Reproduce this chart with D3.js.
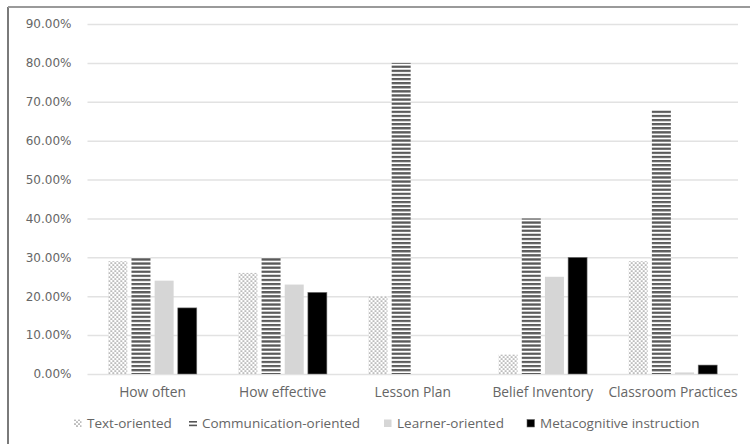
<!DOCTYPE html>
<html>
<head>
<meta charset="utf-8">
<script src="https://cdn.jsdelivr.net/npm/d3@7"></script>
<style>
  html, body { margin: 0; padding: 0; background: #fff; }
  svg { display: block; }
  text { font-family: "Open Sans", sans-serif; fill: #666; }
</style>
</head>
<body>
<svg id="chart" width="750" height="444"></svg>
<script>
const categories = ["How often", "How effective", "Lesson Plan", "Belief Inventory", "Classroom Practices"];
const seriesNames = ["Text-oriented", "Communication-oriented", "Learner-oriented", "Metacognitive instruction"];
const textOriented = [0.29, 0.26, 0.20, 0.05, 0.29];
const communicationOriented = [0.30, 0.30, 0.80, 0.40, 0.68];
const learnerOriented = [0.24, 0.23, 0, 0.25, 0.004];
const metacognitive = [0.17, 0.21, 0, 0.30, 0.023];
const yTicks = [0, 0.1, 0.2, 0.3, 0.4, 0.5, 0.6, 0.7, 0.8, 0.9];

const seriesValues = [textOriented, communicationOriented, learnerOriented, metacognitive];
const fills = ["url(#dots)", "url(#stripes)", "#d6d6d6", "#000"];

const svg = d3.select("#chart");

// patterns
const defs = svg.append("defs");
const dots = defs.append("pattern").attr("id", "dots").attr("patternUnits", "userSpaceOnUse")
  .attr("width", 4).attr("height", 4);
dots.append("rect").attr("width", 4).attr("height", 4).attr("fill", "#fff");
dots.append("circle").attr("cx", 1).attr("cy", 1).attr("r", 0.85).attr("fill", "#8a8a8a");
dots.append("circle").attr("cx", 3).attr("cy", 3).attr("r", 0.85).attr("fill", "#8a8a8a");

const stripes = defs.append("pattern").attr("id", "stripes").attr("patternUnits", "userSpaceOnUse")
  .attr("width", 8).attr("height", 4.1);
stripes.append("rect").attr("width", 8).attr("height", 4.1).attr("fill", "#fff");
stripes.append("rect").attr("width", 8).attr("height", 2.3).attr("fill", "#5a5a5a");

// frame
svg.append("line").attr("x1", 8).attr("x2", 8).attr("y1", 7).attr("y2", 444)
  .attr("stroke", "#7a7a7a").attr("stroke-width", 2);
svg.append("line").attr("x1", 8).attr("x2", 750).attr("y1", 7).attr("y2", 7)
  .attr("stroke", "#9a9a9a").attr("stroke-width", 2);

const y = d3.scaleLinear().domain([0, 0.9]).range([374, 24]);
const x0 = d3.scaleBand().domain(categories).range([87.5, 738]).paddingInner(0.32).paddingOuter(0.16);
const x1 = d3.scaleBand().domain(seriesNames).range([0, x0.bandwidth()]).paddingInner(0.18);

// gridlines + y labels
const fmt = d3.format(".2%");
const yAxis = d3.axisLeft(y).tickValues(yTicks).tickFormat(fmt).tickSize(-(738 - 87.5)).tickPadding(16);
const ga = svg.append("g").attr("transform", "translate(87.5,0)").call(yAxis);
ga.select(".domain").remove();
ga.selectAll(".tick line").attr("stroke", "#e2e2e2").attr("stroke-width", 1.5);
ga.selectAll(".tick text").style("font-size", "12px").attr("fill", "#6a6a6a").style("font-family", "'DejaVu Sans', sans-serif");

// bars
const groups = svg.append("g").selectAll("g").data(categories).join("g")
  .attr("transform", d => `translate(${x0(d)},0)`);
groups.selectAll("rect").data((c, i) => seriesNames.map((s, j) => ({ s, j, v: seriesValues[j][i] })))
  .join("rect")
  .attr("x", d => x1(d.s))
  .attr("width", x1.bandwidth())
  .attr("y", d => y(d.v))
  .attr("height", d => y(0) - y(d.v))
  .attr("fill", d => fills[d.j])
  .attr("stroke", d => d.j === 3 ? "#777" : "none")
  .attr("stroke-width", 0.6);

// category labels
const xAxis = d3.axisBottom(x0).tickSize(0).tickPadding(13);
const gx = svg.append("g").attr("transform", "translate(0,374)").call(xAxis);
gx.select(".domain").remove();
gx.selectAll(".tick text").style("font-size", "13.8px").attr("fill", "#666").style("font-family", "'Open Sans', sans-serif");

// legend
const legendX = [74, 189, 384, 527];
const lg = svg.append("g").selectAll("g").data(seriesNames).join("g")
  .attr("transform", (d, i) => `translate(${legendX[i]},419)`);
lg.each(function (d, i) {
  const g = d3.select(this);
  if (i === 1) {
    g.append("rect").attr("x", 0).attr("y", 2).attr("width", 8).attr("height", 1.6).attr("fill", "#555");
    g.append("rect").attr("x", 0).attr("y", 5.6).attr("width", 8).attr("height", 1.6).attr("fill", "#555");
  } else {
    g.append("rect").attr("x", 0).attr("y", 0.5).attr("width", 7.5).attr("height", 7.5)
      .attr("fill", fills[i]).attr("stroke", i === 3 ? "#666" : "none").attr("stroke-width", 0.6);
  }
  g.append("text").attr("x", 13).attr("y", 8.5).text(d)
    .style("font-size", "13.5px").attr("fill", "#666");
});
</script>
</body>
</html>
